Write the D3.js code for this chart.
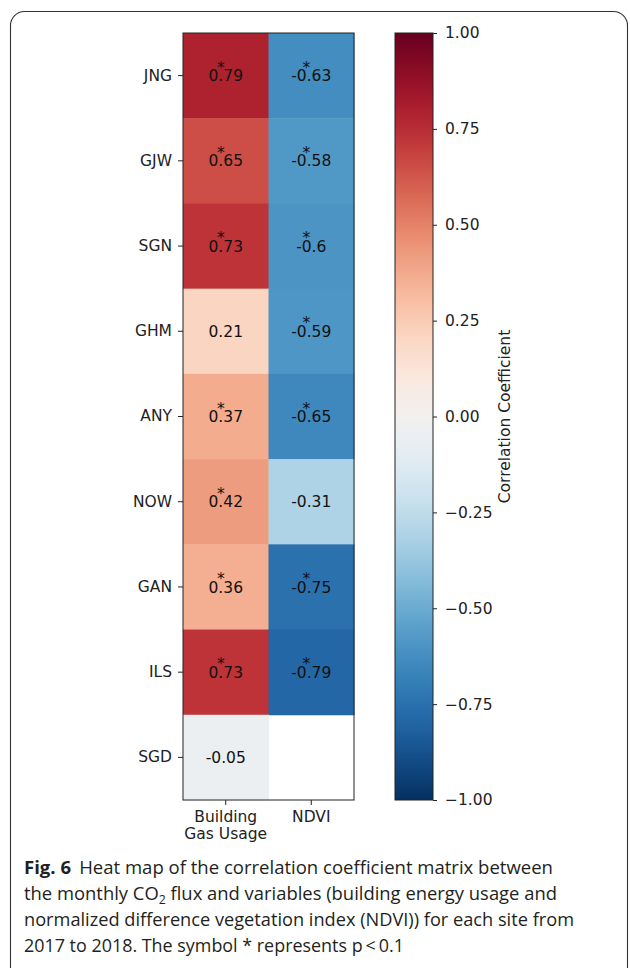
<!DOCTYPE html>
<html>
<head>
<meta charset="utf-8">
<script src="https://cdn.jsdelivr.net/npm/d3@7"></script>
<style>
  html, body { margin: 0; padding: 0; background: #fff; }
  svg { display: block; }
</style>
</head>
<body>
<svg id="fig" width="630" height="968"></svg>
<script>
// Sites (rows) and variables (columns)
const sites = ["JNG", "GJW", "SGN", "GHM", "ANY", "NOW", "GAN", "ILS", "SGD"];
const variables = ["Building\nGas Usage", "NDVI"];

// Correlation coefficients per site
const gasUsage = [0.79, 0.65, 0.73, 0.21, 0.37, 0.42, 0.36, 0.73, -0.05];
const ndvi     = [-0.63, -0.58, -0.6, -0.59, -0.65, -0.31, -0.75, -0.79, null];

// Significance flags (p < 0.1)
const gasSig  = [true, true, true, false, true, true, true, true, false];
const ndviSig = [true, true, true, true, true, false, true, true, false];

// Colour bar ticks
const colorTicks = [1, 0.75, 0.5, 0.25, 0, -0.25, -0.5, -0.75, -1];

const cells = [];
sites.forEach((s, i) => {
  cells.push({ site: s, variable: variables[0], value: gasUsage[i], sig: gasSig[i] });
  cells.push({ site: s, variable: variables[1], value: ndvi[i], sig: ndviSig[i] });
});

const svg = d3.select("#fig");
const tickFont = "DejaVu Sans, sans-serif";
const fs = 15.5;
const ink = "#222";

// Rounded frame around the figure
svg.append("rect")
  .attr("x", 10.5).attr("y", 11.5)
  .attr("width", 617).attr("height", 975)
  .attr("rx", 14).attr("ry", 14)
  .attr("fill", "none").attr("stroke", "#333").attr("stroke-width", 1.1);

// Heat map
const hm = { left: 183, right: 354, top: 33, bottom: 800 };
const x = d3.scaleBand().domain(variables).range([hm.left, hm.right]);
const y = d3.scaleBand().domain(sites).range([hm.top, hm.bottom]);
const color = d3.scaleSequential(t => d3.interpolateRdBu(1 - t)).domain([-1, 1]);

const shown = cells.filter(d => d.value !== null);
const g = svg.append("g");
g.selectAll("rect.cell")
  .data(shown)
  .join("rect")
  .attr("class", "cell")
  .attr("x", d => x(d.variable))
  .attr("y", d => y(d.site))
  .attr("width", x.bandwidth() + 0.5)
  .attr("height", y.bandwidth() + 0.5)
  .attr("fill", d => color(d.value));

// Value label with its significance star, kept in one text element
const lab = g.selectAll("text.val")
  .data(shown)
  .join("text")
  .attr("class", "val")
  .attr("text-anchor", "middle")
  .attr("font-family", tickFont)
  .attr("font-size", fs)
  .attr("fill", "#111");

lab.append("tspan")
  .attr("x", d => x(d.variable) + x.bandwidth() / 2)
  .attr("y", d => y(d.site) + y.bandwidth() / 2 + fs * 0.36)
  .text(d => String(d.value));

lab.filter(d => d.sig).append("tspan")
  .attr("x", d => x(d.variable) + x.bandwidth() / 2 - 5)
  .attr("y", d => y(d.site) + y.bandwidth() / 2 - 3)
  .text("*");

g.append("rect")
  .attr("x", hm.left).attr("y", hm.top)
  .attr("width", hm.right - hm.left).attr("height", hm.bottom - hm.top)
  .attr("fill", "none").attr("stroke", "#222").attr("stroke-width", 1);

// Axes
const yAxis = svg.append("g")
  .attr("transform", `translate(${hm.left},0)`)
  .call(d3.axisLeft(y).tickSize(5).tickPadding(6));
const xAxis = svg.append("g")
  .attr("transform", `translate(0,${hm.bottom})`)
  .call(d3.axisBottom(x).tickSize(5).tickPadding(6));

[yAxis, xAxis].forEach(a => {
  a.select(".domain").remove();
  a.attr("font-size", fs).attr("font-family", tickFont);
  a.selectAll(".tick line").attr("stroke", ink);
  a.selectAll(".tick text").attr("fill", ink);
});

xAxis.selectAll(".tick text").each(function (d) {
  const t = d3.select(this);
  const parts = d.split("\n");
  t.text(null);
  parts.forEach((p, i) => {
    t.append("tspan").attr("x", 0).attr("dy", i === 0 ? "0.71em" : "1.1em").text(p);
  });
});

// Colour bar
const cb = { left: 395, right: 433, top: 33, bottom: 800 };
const cy = d3.scaleLinear().domain([-1, 1]).range([cb.bottom, cb.top]);

const defs = svg.append("defs");
const grad = defs.append("linearGradient")
  .attr("id", "cbar").attr("x1", 0).attr("y1", 1).attr("x2", 0).attr("y2", 0);
d3.range(0, 1.0001, 0.02).forEach(t => {
  grad.append("stop").attr("offset", t).attr("stop-color", color(-1 + 2 * t));
});

svg.append("rect")
  .attr("x", cb.left).attr("y", cb.top)
  .attr("width", cb.right - cb.left).attr("height", cb.bottom - cb.top)
  .attr("fill", "url(#cbar)")
  .attr("stroke", "#222").attr("stroke-width", 1);

const cAxis = svg.append("g")
  .attr("transform", `translate(${cb.right},0)`)
  .call(d3.axisRight(cy).tickValues(colorTicks).tickFormat(d3.format(".2f")).tickSize(4).tickPadding(8));
cAxis.select(".domain").remove();
cAxis.attr("font-size", fs).attr("font-family", tickFont);
cAxis.selectAll(".tick line").attr("stroke", ink);
cAxis.selectAll(".tick text").attr("fill", ink);

svg.append("text")
  .attr("transform", `translate(505,${cy(0)}) rotate(-90)`)
  .attr("text-anchor", "middle")
  .attr("dominant-baseline", "central")
  .attr("font-family", tickFont)
  .attr("font-size", fs)
  .attr("fill", ink)
  .text("Correlation Coefficient");

// Caption
const capFont = "Open Sans, Noto Sans, sans-serif";
const cap = svg.append("g").attr("font-family", capFont).attr("font-size", 18).attr("fill", "#231f20");

const l1 = cap.append("text").attr("x", 24).attr("y", 874)
  .attr("textLength", 529).attr("lengthAdjust", "spacingAndGlyphs");
l1.append("tspan").attr("font-weight", "bold").text("Fig. 6");
l1.append("tspan").attr("dx", 8).text("Heat map of the correlation coefficient matrix between");

const l2 = cap.append("text").attr("x", 24).attr("y", 900)
  .attr("textLength", 533).attr("lengthAdjust", "spacingAndGlyphs");
l2.append("tspan").text("the monthly CO");
l2.append("tspan").attr("font-size", 12).attr("dy", 4).text("2");
l2.append("tspan").attr("dy", -4).text(" flux and variables (building energy usage and");

cap.append("text").attr("x", 24).attr("y", 926)
  .attr("textLength", 550).attr("lengthAdjust", "spacingAndGlyphs")
  .text("normalized difference vegetation index (NDVI)) for each site from");

cap.append("text").attr("x", 24).attr("y", 952)
  .attr("textLength", 380).attr("lengthAdjust", "spacingAndGlyphs")
  .text("2017 to 2018. The symbol * represents p\u2009<\u20090.1");
</script>
</body>
</html>
